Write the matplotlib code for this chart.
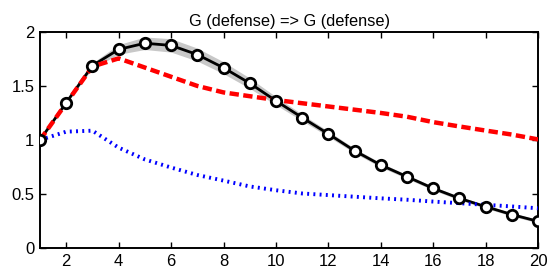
# %%
import matplotlib
matplotlib.use("Agg")
import matplotlib.pyplot as plt
import numpy as np

plt.rcParams["font.family"] = ["Liberation Sans", "DejaVu Sans"]

# %% data
horizon = np.arange(1, 21)
irf_median = [1.0, 1.345, 1.688, 1.838, 1.895, 1.875, 1.79, 1.668, 1.525, 1.362,
              1.207, 1.056, 0.90, 0.768, 0.66, 0.552, 0.46, 0.383, 0.31, 0.247]
band_halfwidth = [0.0, 0.012, 0.025, 0.045, 0.058, 0.062, 0.06, 0.055, 0.048, 0.038,
                  0.03, 0.025, 0.022, 0.02, 0.018, 0.017, 0.016, 0.015, 0.015, 0.015]
irf_red = [1.0, 1.34, 1.68, 1.755, 1.67, 1.585, 1.50, 1.44, 1.405, 1.37,
           1.34, 1.31, 1.28, 1.25, 1.215, 1.165, 1.125, 1.087, 1.05, 1.005]
irf_blue = [1.0, 1.077, 1.086, 0.929, 0.82, 0.745, 0.676, 0.624, 0.57, 0.535,
            0.505, 0.49, 0.475, 0.46, 0.447, 0.43, 0.415, 0.40, 0.385, 0.368]

# %% plot
fig = plt.figure(figsize=(5.48, 2.75), dpi=100)
ax = fig.add_axes([0.073, 0.098, 0.909, 0.786])

lower = np.array(irf_median) - np.array(band_halfwidth)
upper = np.array(irf_median) + np.array(band_halfwidth)
ax.fill_between(horizon, lower, upper, color="#c8c8c8", lw=0, zorder=1)

ax.plot(horizon, irf_median, color="black", lw=2, zorder=2)
ax.plot(horizon, irf_blue, color="blue", lw=2.8, linestyle=(0, (0.5, 1.1)), zorder=3)
ax.plot(horizon, irf_red, color="red", lw=3.2, linestyle=(0, (2.1, 1.0)), zorder=3)
ax.plot(horizon, irf_median, linestyle="none", marker="o", markersize=7.5,
        markerfacecolor="white", markeredgecolor="black", markeredgewidth=2, zorder=4)

ax.set_xlim(1, 20)
ax.set_ylim(0, 2)
ax.set_xticks(np.arange(2, 21, 2))
ax.set_yticks([0, 0.5, 1, 1.5, 2])
ax.set_yticklabels(["0", "0.5", "1", "1.5", "2"])
ax.tick_params(direction="in", top=True, right=True, length=4, width=1,
               labelsize=12, pad=4)
for s in ax.spines.values():
    s.set_linewidth(1.4)
ax.set_title("G (defense) => G (defense)", fontsize=11.8, pad=4)

fig.savefig("out.png", dpi=100)
